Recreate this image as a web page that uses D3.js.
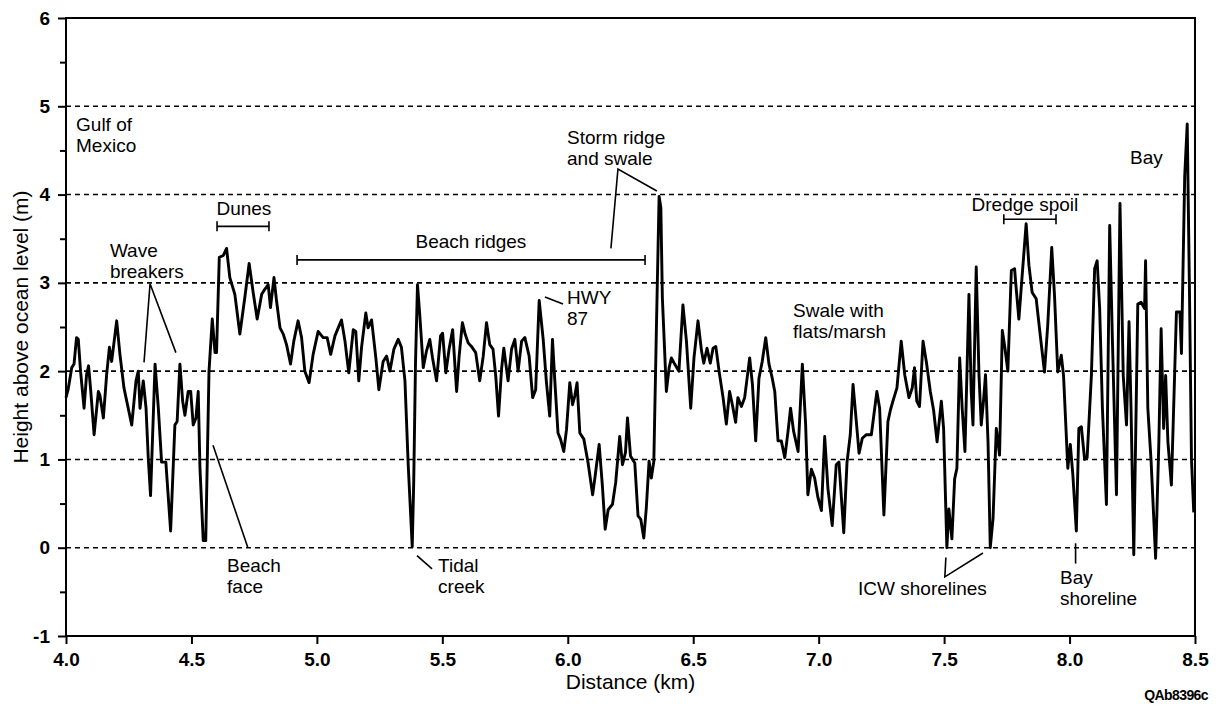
<!DOCTYPE html>
<html lang="en">
  <head>
    <meta charset="UTF-8" />
    <title>Profile</title>
    <style>
      body { margin: 0; background: #fff; }
      text { font-family: "Liberation Sans", Arial, Helvetica, sans-serif; fill: #000; }
    </style>
  </head>
  <body>
    <script src="https://d3js.org/d3.v7.min.js"></script>
    <script>
      // profile (km, m)
      const distanceKm = [
        4.000, 4.009, 4.023, 4.032, 4.042, 4.049, 4.058, 4.072, 4.082, 4.090,
        4.098, 4.112, 4.129, 4.135, 4.149, 4.162, 4.173, 4.182, 4.202, 4.215,
        4.231, 4.262, 4.279, 4.288, 4.295, 4.308, 4.319, 4.328, 4.337, 4.355,
        4.368, 4.381, 4.398, 4.417, 4.434, 4.443, 4.454, 4.465, 4.474, 4.487,
        4.497, 4.507, 4.518, 4.527, 4.534, 4.547, 4.557, 4.570, 4.583, 4.594,
        4.600, 4.611, 4.627, 4.640, 4.653, 4.673, 4.693, 4.713, 4.730, 4.746,
        4.762, 4.780, 4.793, 4.806, 4.815, 4.829, 4.839, 4.853, 4.866, 4.879,
        4.895, 4.908, 4.925, 4.939, 4.952, 4.969, 4.985, 5.005, 5.025, 5.041,
        5.055, 5.072, 5.085, 5.098, 5.112, 5.127, 5.145, 5.155, 5.167, 5.178,
        5.195, 5.204, 5.218, 5.235, 5.247, 5.264, 5.278, 5.291, 5.307, 5.324,
        5.337, 5.351, 5.364, 5.380, 5.386, 5.393, 5.401, 5.410, 5.424, 5.437,
        5.450, 5.461, 5.477, 5.493, 5.501, 5.514, 5.527, 5.541, 5.557, 5.567,
        5.580, 5.590, 5.603, 5.616, 5.633, 5.649, 5.663, 5.676, 5.689, 5.702,
        5.713, 5.724, 5.736, 5.745, 5.762, 5.776, 5.789, 5.802, 5.816, 5.829,
        5.846, 5.860, 5.872, 5.886, 5.902, 5.915, 5.928, 5.939, 5.948, 5.961,
        5.971, 5.984, 5.995, 6.008, 6.019, 6.028, 6.037, 6.048, 6.064, 6.081,
        6.099, 6.109, 6.125, 6.138, 6.149, 6.161, 6.178, 6.191, 6.207, 6.218,
        6.230, 6.238, 6.250, 6.267, 6.280, 6.291, 6.303, 6.313, 6.324, 6.333,
        6.343, 6.353, 6.364, 6.371, 6.377, 6.393, 6.404, 6.413, 6.426, 6.443,
        6.459, 6.473, 6.490, 6.503, 6.519, 6.533, 6.542, 6.555, 6.568, 6.579,
        6.590, 6.603, 6.619, 6.632, 6.645, 6.656, 6.669, 6.678, 6.692, 6.705,
        6.725, 6.736, 6.749, 6.762, 6.775, 6.789, 6.802, 6.815, 6.825, 6.838,
        6.851, 6.865, 6.878, 6.888, 6.900, 6.918, 6.935, 6.948, 6.957, 6.971,
        6.984, 6.997, 7.011, 7.024, 7.037, 7.054, 7.070, 7.081, 7.100, 7.113,
        7.126, 7.137, 7.150, 7.161, 7.174, 7.190, 7.210, 7.232, 7.243, 7.260,
        7.276, 7.286, 7.296, 7.312, 7.329, 7.343, 7.360, 7.373, 7.382, 7.391,
        7.402, 7.416, 7.429, 7.445, 7.458, 7.472, 7.489, 7.498, 7.511, 7.519,
        7.531, 7.542, 7.551, 7.562, 7.572, 7.583, 7.599, 7.608, 7.615, 7.628,
        7.639, 7.648, 7.657, 7.665, 7.675, 7.684, 7.695, 7.708, 7.721, 7.732,
        7.742, 7.754, 7.768, 7.781, 7.785, 7.798, 7.811, 7.827, 7.838, 7.851,
        7.867, 7.883, 7.900, 7.913, 7.929, 7.940, 7.953, 7.967, 7.976, 7.993,
        8.003, 8.013, 8.027, 8.037, 8.047, 8.060, 8.070, 8.087, 8.100, 8.110,
        8.120, 8.131, 8.147, 8.160, 8.171, 8.187, 8.201, 8.214, 8.227, 8.237,
        8.245, 8.256, 8.272, 8.285, 8.299, 8.303, 8.312, 8.325, 8.343, 8.356,
        8.365, 8.375, 8.383, 8.392, 8.406, 8.426, 8.440, 8.446, 8.459, 8.469,
        8.478, 8.486, 8.495,
      ];
      const heightM = [
        1.70, 1.80, 2.04, 2.08, 2.38, 2.36, 2.00, 1.58, 1.96, 2.06,
        1.80, 1.28, 1.77, 1.73, 1.47, 1.96, 2.27, 2.11, 2.57, 2.19,
        1.81, 1.39, 1.89, 2.00, 1.58, 1.89, 1.58, 1.01, 0.59, 2.08,
        1.58, 0.97, 0.97, 0.19, 1.39, 1.43, 2.08, 1.66, 1.50, 1.77,
        1.77, 1.39, 1.47, 1.77, 0.90, 0.08, 0.08, 2.00, 2.59, 2.21,
        2.21, 3.29, 3.31, 3.39, 3.06, 2.87, 2.42, 2.84, 3.22, 2.89,
        2.59, 2.87, 2.93, 2.98, 2.72, 3.06, 2.80, 2.49, 2.42, 2.30,
        2.08, 2.34, 2.57, 2.38, 2.00, 1.87, 2.19, 2.45, 2.38, 2.38,
        2.19, 2.40, 2.49, 2.58, 2.34, 1.98, 2.47, 2.45, 1.89, 2.27,
        2.66, 2.49, 2.58, 2.15, 1.79, 2.11, 2.17, 2.00, 2.25, 2.36,
        2.27, 1.89, 0.94, 0.01, 0.75, 2.08, 2.98, 2.64, 2.04, 2.23,
        2.36, 2.15, 1.89, 2.40, 2.43, 1.98, 2.25, 2.47, 1.77, 2.17,
        2.55, 2.43, 2.32, 2.28, 2.21, 1.89, 2.17, 2.55, 2.30, 2.25,
        1.94, 1.49, 2.02, 2.26, 1.89, 2.25, 2.36, 2.00, 2.34, 2.38,
        2.17, 1.70, 1.79, 2.80, 2.36, 1.87, 1.49, 2.36, 1.91, 1.30,
        1.23, 1.09, 1.34, 1.87, 1.62, 1.72, 1.87, 1.30, 1.23, 0.96,
        0.60, 0.81, 1.17, 0.70, 0.21, 0.43, 0.49, 0.74, 1.26, 0.94,
        1.08, 1.47, 1.04, 0.96, 0.36, 0.32, 0.11, 0.45, 0.98, 0.79,
        0.98, 2.45, 3.98, 3.85, 2.83, 1.77, 2.04, 2.15, 2.08, 2.00,
        2.75, 2.34, 1.58, 2.15, 2.57, 2.23, 2.09, 2.26, 2.09, 2.26,
        2.28, 2.00, 1.70, 1.40, 1.77, 1.62, 1.42, 1.70, 1.60, 1.70,
        2.15, 1.85, 1.21, 1.92, 2.11, 2.38, 2.08, 1.92, 1.77, 1.21,
        1.21, 1.02, 1.32, 1.58, 1.32, 1.09, 2.08, 1.40, 0.60, 0.89,
        0.79, 0.57, 0.42, 1.26, 0.67, 0.25, 0.94, 0.97, 0.17, 0.97,
        1.28, 1.85, 1.43, 1.07, 1.24, 1.28, 1.28, 1.77, 1.58, 0.37,
        1.43, 1.56, 1.66, 1.81, 2.34, 1.96, 1.70, 1.81, 2.04, 1.66,
        1.60, 2.34, 2.11, 1.77, 1.56, 1.20, 1.66, 1.35, 0.00, 0.44,
        0.10, 0.78, 0.90, 2.15, 1.58, 1.09, 2.87, 1.77, 1.39, 3.18,
        1.96, 1.39, 1.66, 1.96, 1.20, 0.00, 0.33, 1.35, 1.05, 2.46,
        2.27, 2.00, 3.14, 3.16, 3.01, 2.59, 3.08, 3.67, 3.20, 2.89,
        2.82, 2.41, 1.99, 2.52, 3.40, 2.86, 1.99, 2.18, 1.95, 0.90,
        1.17, 0.83, 0.19, 1.35, 1.37, 1.00, 1.02, 1.95, 3.16, 3.25,
        2.71, 1.58, 0.49, 3.65, 2.33, 0.60, 3.90, 1.95, 1.39, 2.56,
        1.58, -0.08, 2.76, 2.78, 2.71, 3.25, 1.58, 0.98, -0.12, 1.20,
        2.48, 1.35, 1.95, 1.20, 0.71, 2.67, 2.67, 2.20, 4.21, 4.80,
        2.89, 1.00, 0.40,
      ];

      const xTicks = [4.0, 4.5, 5.0, 5.5, 6.0, 6.5, 7.0, 7.5, 8.0, 8.5];
      const yTicks = [-1, 0, 1, 2, 3, 4, 5, 6];
      const yMinorTicks = [-0.5, 0.5, 1.5, 2.5, 3.5, 4.5, 5.5];
      const gridLevels = [0, 1, 2, 3, 4, 5];

      // labels: [text lines, km, m, anchor]
      const notes = [
        [["Gulf of", "Mexico"], 4.04, 4.72, "start"],
        [["Wave", "breakers"], 4.175, 3.29, "start"],
        [["Dunes"], 4.709, 3.77, "middle"],
        [["Beach ridges"], 5.614, 3.4, "middle"],
        [["Storm ridge", "and swale"], 5.997, 4.57, "start"],
        [["HWY", "87"], 5.997, 2.76, "start"],
        [["Swale with", "flats/marsh"], 6.898, 2.61, "start"],
        [["Dredge spoil"], 7.822, 3.81, "middle"],
        [["Bay"], 8.241, 4.35, "start"],
        [["Beach", "face"], 4.642, -0.28, "start"],
        [["Tidal", "creek"], 5.483, -0.27, "start"],
        [["ICW shorelines"], 7.157, -0.54, "start"],
        [["Bay", "shoreline"], 7.962, -0.41, "start"],
      ];
      // range brackets: [from km, to km, m]
      const brackets = [
        [4.602, 4.809, 3.64],
        [4.921, 6.308, 3.26],
        [7.738, 7.946, 3.72],
      ];
      // leader lines as polylines of [km, m]
      const leaders = [
        [[4.311, 2.10], [4.335, 2.99], [4.438, 2.21]],
        [[6.172, 3.39], [6.2, 4.29], [6.355, 4.04]],
        [[5.909, 2.84], [5.981, 2.76]],
        [[4.586, 1.16], [4.725, 0.0]],
        [[5.399, -0.09], [5.459, -0.24]],
        [[7.507, -0.11], [7.503, -0.33], [7.655, -0.06]],
        [[8.024, 0.05], [8.024, -0.18]],
      ];

      const W = 1221, H = 708;
      const padL = 66, padR = 1195, padT = 18, padB = 636;

      const x = d3.scaleLinear().domain([4, 8.5]).range([padL, padR]);
      const y = d3.scaleLinear().domain([-1, 6]).range([padB, padT]);

      const svg = d3.select("body").append("svg")
        .attr("width", W).attr("height", H);

      // dashed level lines
      svg.append("g").selectAll("line").data(gridLevels).join("line")
        .attr("x1", padL).attr("x2", padR)
        .attr("y1", d => y(d)).attr("y2", d => y(d))
        .attr("stroke", "#000").attr("stroke-width", 1.6)
        .attr("stroke-dasharray", "5,4");

      // axes
      const xAxis = svg.append("g")
        .attr("transform", `translate(0,${padB})`)
        .call(d3.axisBottom(x).tickValues(xTicks).tickFormat(d3.format(".1f"))
          .tickSize(8).tickPadding(9));
      const yAxis = svg.append("g")
        .attr("transform", `translate(${padL},0)`)
        .call(d3.axisLeft(y).tickValues(yTicks).tickFormat(d => d)
          .tickSize(8).tickPadding(8));
      svg.append("g")
        .attr("transform", `translate(${padL},0)`)
        .call(d3.axisLeft(y).tickValues(yMinorTicks).tickFormat("").tickSize(6))
        .select(".domain").remove();

      [xAxis, yAxis].forEach(g => {
        g.select(".domain").remove();
        g.selectAll("text").attr("font-size", 19).attr("font-weight", "bold")
          .attr("fill", "#000");
      });
      svg.selectAll(".tick line").attr("stroke-width", 2);

      // frame
      svg.append("rect")
        .attr("x", padL).attr("y", padT)
        .attr("width", padR - padL).attr("height", padB - padT)
        .attr("fill", "none").attr("stroke", "#000").attr("stroke-width", 2);

      // profile
      const line = d3.line().x(d => x(d[0])).y(d => y(d[1]));
      svg.append("path")
        .datum(d3.zip(distanceKm, heightM))
        .attr("d", line)
        .attr("fill", "none").attr("stroke", "#000")
        .attr("stroke-width", 2.9).attr("stroke-linejoin", "round");

      // leaders
      svg.append("g").selectAll("path").data(leaders).join("path")
        .attr("d", line)
        .attr("fill", "none").attr("stroke", "#000").attr("stroke-width", 1.6);

      // brackets
      const br = svg.append("g").attr("stroke", "#000").attr("stroke-width", 1.6);
      brackets.forEach(([a, b, m]) => {
        br.append("line").attr("x1", x(a)).attr("x2", x(b))
          .attr("y1", y(m)).attr("y2", y(m));
        [a, b].forEach(k => {
          br.append("line").attr("x1", x(k)).attr("x2", x(k))
            .attr("y1", y(m) - 5).attr("y2", y(m) + 5);
        });
      });

      // annotation text
      notes.forEach(([lines, km, m, anchor]) => {
        const t = svg.append("text")
          .attr("x", x(km)).attr("y", y(m))
          .attr("text-anchor", anchor).attr("font-size", 19);
        lines.forEach((s, i) => {
          t.append("tspan").attr("x", x(km)).attr("dy", i ? 21 : 0).text(s);
        });
      });

      // axis titles
      svg.append("text")
        .attr("x", (padL + padR) / 2).attr("y", 689)
        .attr("text-anchor", "middle").attr("font-size", 21)
        .text("Distance (km)");
      svg.append("text")
        .attr("transform", `translate(28,${(padT + padB) / 2}) rotate(-90)`)
        .attr("text-anchor", "middle").attr("font-size", 21)
        .text("Height above ocean level (m)");

      svg.append("text")
        .attr("x", 1208).attr("y", 700)
        .attr("text-anchor", "end").attr("font-size", 14)
        .attr("font-weight", "bold").attr("letter-spacing", -0.6)
        .text("QAb8396c");
    </script>
  </body>
</html>
